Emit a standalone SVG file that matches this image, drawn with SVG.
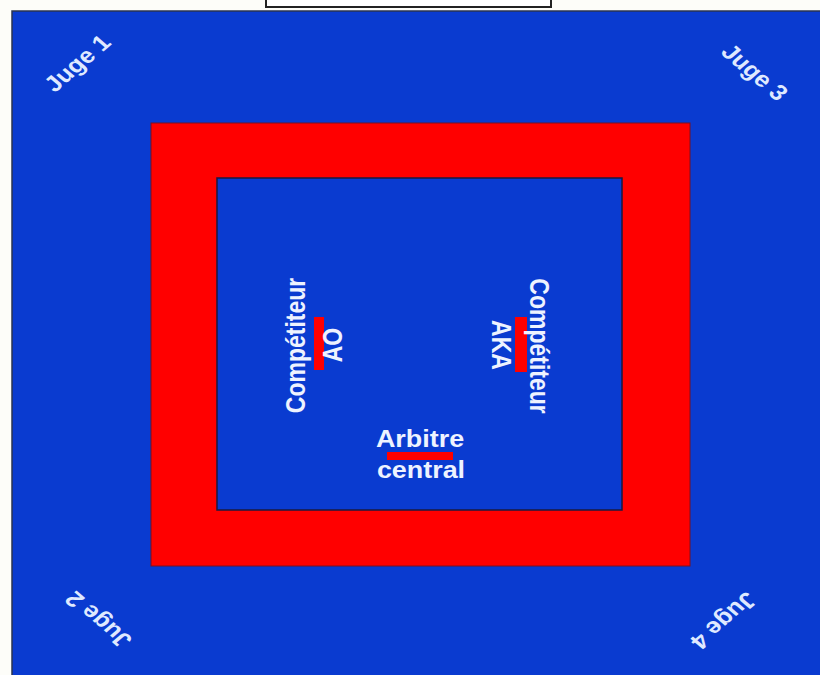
<svg xmlns="http://www.w3.org/2000/svg" width="820" height="675" viewBox="0 0 820 675">
<style>
.lbl{font-family:"Liberation Sans",Arial,sans-serif;font-weight:bold;font-size:23px;fill:#eef3ff;text-anchor:middle}
.juge{font-family:"Liberation Sans",Arial,sans-serif;font-weight:bold;font-size:22px;fill:#dfe9ff;text-anchor:middle;dominant-baseline:central}
.bar{fill:#ff0000}
</style>
<rect x="0" y="0" width="820" height="675" fill="#fdfdf9"/>
<g id="top-box"><rect x="266" y="-4" width="285" height="11" fill="#ffffff" stroke="#222" stroke-width="2"/></g>
<g id="tatami-exterieur"><rect x="12" y="11" width="810" height="666" fill="#0a3bd0" stroke="#2a3550" stroke-width="1.5"/></g>
<g id="zone-rouge"><rect x="151" y="123" width="539" height="443" fill="#ff0000" stroke="#7a1020" stroke-width="1"/></g>
<g id="zone-combat"><rect x="217" y="178" width="405" height="332" fill="#0a3bd0" stroke="#1a1a40" stroke-width="1.5"/></g>
<g id="juge1"><text class="juge" transform="translate(77,63) scale(1.17,1) rotate(-45)">Juge 1</text></g>
<g id="juge3"><text class="juge" transform="translate(755,72) scale(1.17,1) rotate(45)">Juge 3</text></g>
<g id="juge2"><text class="juge" transform="translate(98,620) scale(1.17,1) rotate(225)">Juge 2</text></g>
<g id="juge4"><text class="juge" transform="translate(724,621) scale(1.17,1) rotate(135)">Juge 4</text></g>
<g id="ao">
<rect class="bar" x="314" y="317" width="10" height="53"/>
<text class="lbl" transform="translate(305,345.5) scale(1.17,1) rotate(-90)">Compétiteur</text>
<text class="lbl" transform="translate(341.5,345) scale(1.17,1) rotate(-90)">AO</text>
</g>
<g id="aka">
<rect class="bar" x="515" y="317" width="12" height="55"/>
<text class="lbl" transform="translate(530,346) scale(1.17,1) rotate(90)">Compétiteur</text>
<text class="lbl" transform="translate(492,345) scale(1.17,1) rotate(90)">AKA</text>
</g>
<g id="arbitre">
<rect class="bar" x="387" y="452" width="66" height="8"/>
<text class="lbl" x="0" y="0" transform="translate(420,447) scale(1.17,1)">Arbitre</text>
<text class="lbl" x="0" y="0" transform="translate(421,478) scale(1.17,1)">central</text>
</g>
</svg>
